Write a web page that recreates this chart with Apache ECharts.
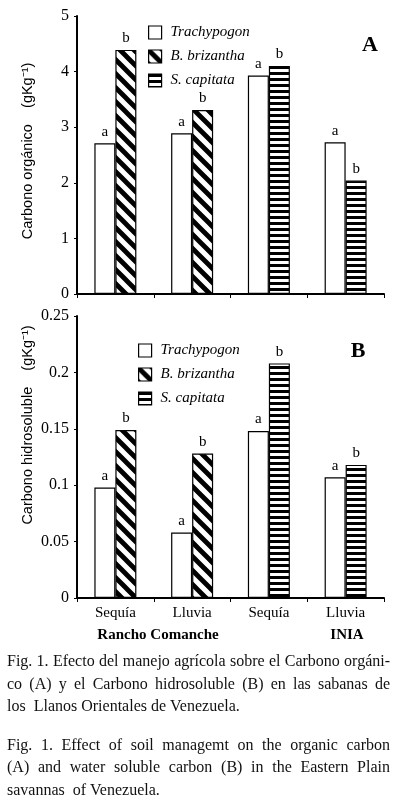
<!DOCTYPE html>
<html>
<head>
<meta charset="utf-8">
<script src="https://cdn.jsdelivr.net/npm/echarts@6/dist/echarts.min.js"></script>
<style>
  html, body { margin: 0; padding: 0; background: #fff; }
  #chart { width: 398px; height: 800px; }
</style>
</head>
<body>
<div id="chart"></div>
<script>
// datos
const categories = ['Sequía', 'Lluvia', 'Sequía', 'Lluvia'];
const seriesNames = ['Trachypogon', 'B. brizantha', 'S. capitata'];

// panel A: carbono organico (gKg-1)
const trachyA = [2.71, 2.89, 3.93, 2.73];
const brizA = [4.39, 3.31, '-', '-'];
const capA = ['-', '-', 4.10, 2.04];

// panel B: carbono hidrosoluble (gKg-1)
const trachyB = [0.098, 0.058, 0.148, 0.107];
const brizB = [0.149, 0.128, '-', '-'];
const capB = ['-', '-', 0.208, 0.118];

const lettersLow = ['a', 'a', 'a', 'a'];
const lettersHigh = ['b', 'b', 'b', 'b'];

const ticksA = { min: 0, max: 5, interval: 1 };
const ticksB = { min: 0, max: 0.25, interval: 0.05 };

const SERIF = "'Liberation Serif', 'Times New Roman', serif";
const SANS = "'Liberation Sans', Arial, sans-serif";

// tramas
const diagPattern = () => {
  const s = 14;
  const c = document.createElement('canvas');
  c.width = c.height = s;
  const g = c.getContext('2d');
  g.fillStyle = '#fff';
  g.fillRect(0, 0, s, s);
  g.strokeStyle = '#000';
  g.lineWidth = 4.8;
  g.beginPath();
  for (let k = -1; k <= 1; k++) {
    g.moveTo(k * s - 3, -3);
    g.lineTo(k * s + s + 3, s + 3);
  }
  g.stroke();
  return c;
};
const stripePattern = () => {
  const c = document.createElement('canvas');
  c.width = 6;
  c.height = 6;
  const g = c.getContext('2d');
  g.fillStyle = '#fff';
  g.fillRect(0, 0, 6, 6);
  g.fillStyle = '#000';
  g.fillRect(0, 0, 6, 3);
  return c;
};
const fills = [
  '#fff',
  { image: diagPattern(), repeat: 'repeat' },
  { image: stripePattern(), repeat: 'repeat' },
];

const barSeries = (idx, name, data, letters, stack) => ({
  type: 'bar',
  name,
  xAxisIndex: idx,
  yAxisIndex: idx,
  stack,
  data,
  barWidth: 21,
  barGap: '0%',
  itemStyle: { color: fills[seriesNames.indexOf(name)], borderColor: '#000', borderWidth: 1.2 },
  label: {
    show: true,
    position: 'top',
    distance: 4,
    fontFamily: SERIF,
    fontSize: 15,
    color: '#000',
    formatter: (p) => letters[p.dataIndex],
  },
  emphasis: { disabled: true },
});

const yAxisBase = (t, gridIndex) => ({
  type: 'value',
  gridIndex,
  ...t,
  axisLine: { show: true, lineStyle: { color: '#000', width: 2 } },
  axisTick: { show: true, length: 3, lineStyle: { color: '#000' } },
  axisLabel: { fontFamily: SERIF, fontSize: 16, color: '#000', margin: 8 },
  splitLine: { show: false },
});

const xAxisBase = (gridIndex, showLabels) => ({
  type: 'category',
  gridIndex,
  data: categories,
  axisLine: { lineStyle: { color: '#000', width: 2 } },
  axisTick: { show: true, length: 4, lineStyle: { color: '#000' } },
  axisLabel: { show: showLabels, fontFamily: SERIF, fontSize: 15, color: '#000', margin: 8 },
});

const legendBase = (left, top) => ({
  orient: 'vertical',
  left,
  top,
  itemWidth: 13,
  itemHeight: 13,
  itemGap: 9,
  icon: 'rect',
  selectedMode: false,
  data: seriesNames,
  itemStyle: { borderColor: '#000', borderWidth: 1.2 },
  textStyle: { fontFamily: SERIF, fontStyle: 'italic', fontSize: 15, color: '#000', padding: [0, 0, 0, 4] },
});

// texto del pie de figura, justificado como en el original
const capFont = '16px ' + SERIF;
const measureCtx = document.createElement('canvas').getContext('2d');
const captionLines = [
  { text: 'Fig. 1. Efecto del manejo agrícola sobre el Carbono orgáni-', y: 662, justify: true },
  { text: 'co (A) y el Carbono hidrosoluble (B) en las sabanas de', y: 685, justify: true },
  { text: 'los  Llanos Orientales de Venezuela.', y: 707, justify: false },
  { text: 'Fig. 1. Effect of  soil managemt  on the organic carbon', y: 746, justify: true },
  { text: '(A) and water soluble carbon (B) in the Eastern Plain', y: 768, justify: true },
  { text: 'savannas  of Venezuela.', y: 791, justify: false },
];
const capLeft = 7, capRight = 390;
const captionGraphics = [];
captionLines.forEach((ln) => {
  const mk = (text, x) => ({
    type: 'text',
    x,
    y: ln.y,
    style: { text, font: capFont, fill: '#111', align: 'left', verticalAlign: 'middle' },
  });
  if (!ln.justify) {
    captionGraphics.push(mk(ln.text, capLeft));
    return;
  }
  measureCtx.font = capFont;
  const words = ln.text.split(/\s+/);
  const widths = words.map((w) => measureCtx.measureText(w).width);
  const total = widths.reduce((a, b) => a + b, 0);
  const gap = (capRight - capLeft - total) / (words.length - 1);
  let x = capLeft;
  words.forEach((w, i) => {
    captionGraphics.push(mk(w, x));
    x += widths[i] + gap;
  });
});

const txt = (text, x, y, font, extra = {}) => ({
  type: 'text',
  x,
  y,
  ...extra,
  style: { text, font, fill: '#000', align: 'center', verticalAlign: 'middle' },
});

const chart = echarts.init(document.getElementById('chart'), null, { renderer: 'canvas' });
chart.setOption({
  backgroundColor: '#fff',
  animation: false,
  grid: [
    { left: 77, top: 16, width: 307, height: 278 },
    { left: 77, top: 316, width: 307, height: 282 },
  ],
  xAxis: [xAxisBase(0, false), xAxisBase(1, true)],
  yAxis: [yAxisBase(ticksA, 0), yAxisBase(ticksB, 1)],
  legend: [legendBase(143, 20), legendBase(133, 338)],
  series: [
    barSeries(0, 'Trachypogon', trachyA, lettersLow),
    barSeries(0, 'B. brizantha', brizA, lettersHigh, 'pA'),
    barSeries(0, 'S. capitata', capA, lettersHigh, 'pA'),
    barSeries(1, 'Trachypogon', trachyB, lettersLow),
    barSeries(1, 'B. brizantha', brizB, lettersHigh, 'pB'),
    barSeries(1, 'S. capitata', capB, lettersHigh, 'pB'),
  ],
  graphic: [
    txt('A', 370, 45, 'bold 22px ' + SERIF),
    txt('B', 358, 351, 'bold 22px ' + SERIF),
    txt('Carbono orgánico    (gKg⁻¹)', 28, 151, '14.5px ' + SANS, { rotation: Math.PI / 2 }),
    txt('Carbono hidrosoluble    (gKg⁻¹)', 28, 425, '14.5px ' + SANS, { rotation: Math.PI / 2 }),
    txt('Rancho Comanche', 158, 635, 'bold 15px ' + SERIF),
    txt('INIA', 347, 635, 'bold 15px ' + SERIF),
    ...captionGraphics,
  ],
});
</script>
</body>
</html>
